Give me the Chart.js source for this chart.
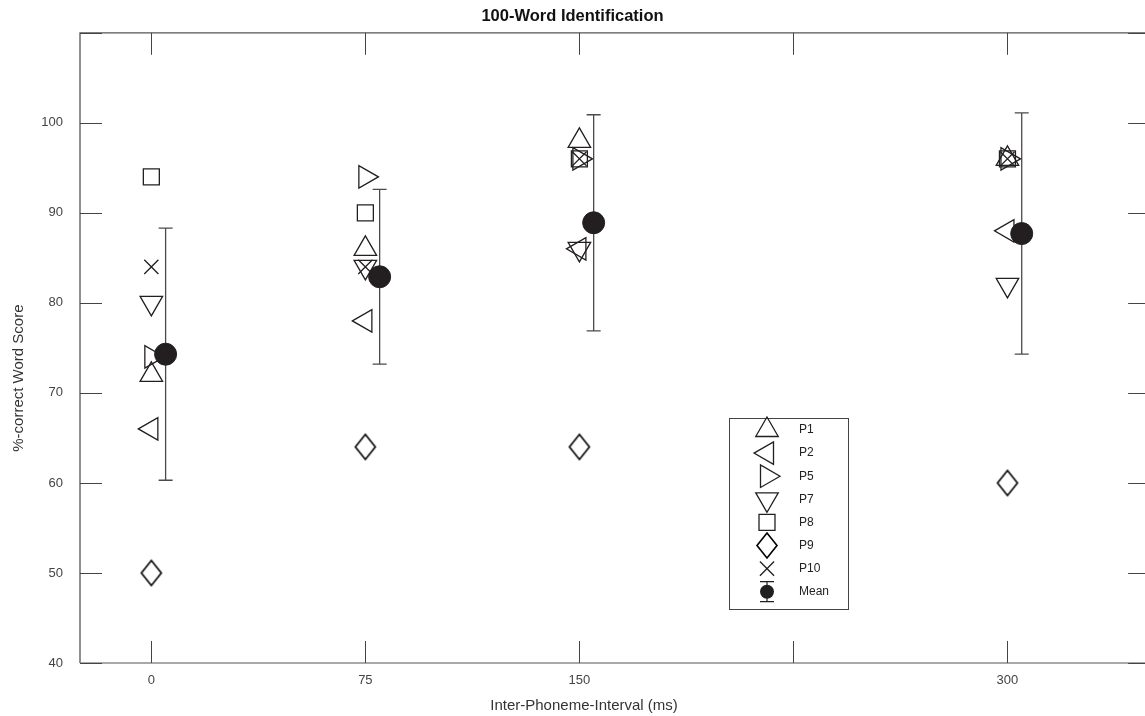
<!DOCTYPE html>
<html>
<head>
<meta charset="utf-8">
<script src="https://cdn.jsdelivr.net/npm/chart.js@4.4.1/dist/chart.umd.min.js"></script>
<style>
  html, body { margin: 0; padding: 0; background: #fff; overflow: hidden; }
  #ipiChart { display: block; }
</style>
</head>
<body>
<canvas id="ipiChart" width="1145" height="716"></canvas>
<script>
// ---- values ----
const ipiMs = [0, 75, 150, 300];
const tickMs = [0, 75, 150, 225, 300];
const unlabelledTicks = [225];
const scoreTicks = [40, 50, 60, 70, 80, 90, 100, 110];
const xAxisMin = -25;
const xAxisMax = 350;      // right edge of the axes box (just outside the cropped picture)
const xVisibleMax = 348.2; // where the picture is cut off

const participants = ['P1', 'P2', 'P5', 'P7', 'P8', 'P9', 'P10'];
const p1 = [72, 86, 98, 96];
const p2 = [66, 78, 86, 88];
const p5 = [74, 94, 96, 96];
const p7 = [80, 84, 86, 82];
const p8 = [94, 90, 96, 96];
const p9 = [50, 64, 64, 60];
const p10 = [84, 84, 96, 96];
const scores = [p1, p2, p5, p7, p8, p9, p10];

const meanScore = [74.3, 82.9, 88.9, 87.7];
const sdScore = [14.0, 9.7, 12.0, 13.4];
const meanShiftMs = 5;   // mean is drawn just right of the individual points

// ---- styling ----
const ink = '#231f20';
const FONT = '"Liberation Sans", Arial, sans-serif';

function diamondMarker(w, h) {
  const c = document.createElement('canvas');
  c.width = w + 4;
  c.height = h + 4;
  const g = c.getContext('2d');
  g.strokeStyle = '#000';
  g.lineWidth = 1.6;
  g.beginPath();
  g.moveTo(c.width / 2, 2);
  g.lineTo(c.width - 2, c.height / 2);
  g.lineTo(c.width / 2, c.height - 2);
  g.lineTo(2, c.height / 2);
  g.closePath();
  g.stroke();
  return c;
}

const markers = {
  P1:  { pointStyle: 'triangle', rotation: 0,   radius: 13 },
  P2:  { pointStyle: 'triangle', rotation: 270, radius: 13 },
  P5:  { pointStyle: 'triangle', rotation: 90,  radius: 13 },
  P7:  { pointStyle: 'triangle', rotation: 180, radius: 13 },
  P8:  { pointStyle: 'rect',     rotation: 0,   radius: 11.3 },
  P9:  { pointStyle: diamondMarker(20, 25), rotation: 0, radius: 12 },
  P10: { pointStyle: 'crossRot', rotation: 0,   radius: 10 }
};

const datasets = participants.map((name, k) => ({
  label: name,
  data: ipiMs.map((x, i) => ({ x: x, y: scores[k][i] })),
  showLine: false,
  pointStyle: markers[name].pointStyle,
  pointRotation: markers[name].rotation,
  pointRadius: markers[name].radius,
  pointBorderColor: ink,
  pointBackgroundColor: 'rgba(0,0,0,0)',
  pointBorderWidth: 1.3
}));

datasets.push({
  label: 'Mean',
  data: ipiMs.map((x, i) => ({ x: x + meanShiftMs, y: meanScore[i] })),
  showLine: false,
  pointStyle: 'circle',
  pointRadius: 11,
  pointBorderColor: ink,
  pointBackgroundColor: ink,
  pointBorderWidth: 1
});

// axes box with inward ticks on all four sides + error bars
const framePlugin = {
  id: 'frame',
  beforeDatasetsDraw(chart) {
    const { ctx, chartArea: a, scales: { x, y } } = chart;
    const tl = 22;
    const right = x.getPixelForValue(xAxisMax);
    ctx.save();
    ctx.lineWidth = 1.3;
    ctx.strokeStyle = '#555';
    ctx.beginPath();
    ctx.moveTo(a.left, a.bottom);
    ctx.lineTo(a.left, a.top);
    ctx.lineTo(right, a.top);
    ctx.lineTo(right, a.bottom);
    ctx.stroke();
    ctx.strokeStyle = '#8c8c8c';
    ctx.beginPath();
    ctx.moveTo(a.left, a.bottom);
    ctx.lineTo(right, a.bottom);
    ctx.stroke();

    ctx.lineWidth = 1;
    ctx.strokeStyle = '#444';
    ctx.beginPath();
    tickMs.forEach(v => {
      const px = Math.round(x.getPixelForValue(v)) + 0.5;
      ctx.moveTo(px, a.bottom); ctx.lineTo(px, a.bottom - tl);
      ctx.moveTo(px, a.top); ctx.lineTo(px, a.top + tl);
    });
    scoreTicks.forEach(v => {
      const py = Math.round(y.getPixelForValue(v)) + 0.5;
      ctx.moveTo(a.left, py); ctx.lineTo(a.left + tl, py);
      ctx.moveTo(right, py); ctx.lineTo(right - tl, py);
    });
    ctx.stroke();

    // mean +/- SD
    ctx.strokeStyle = '#4a4a4a';
    ctx.lineWidth = 1.3;
    ctx.beginPath();
    ipiMs.forEach((v, i) => {
      const px = x.getPixelForValue(v + meanShiftMs);
      const hi = y.getPixelForValue(meanScore[i] + sdScore[i]);
      const lo = y.getPixelForValue(meanScore[i] - sdScore[i]);
      ctx.moveTo(px, hi); ctx.lineTo(px, lo);
      ctx.moveTo(px - 7, hi); ctx.lineTo(px + 7, hi);
      ctx.moveTo(px - 7, lo); ctx.lineTo(px + 7, lo);
    });
    ctx.stroke();
    ctx.restore();
  }
};

// axis titles placed like the original figure
const axisTitlePlugin = {
  id: 'axisTitles',
  afterDraw(chart) {
    const { ctx, chartArea: a, scales: { x } } = chart;
    const right = x.getPixelForValue(xAxisMax);
    ctx.save();
    ctx.fillStyle = '#333';
    ctx.font = '15px ' + FONT;
    ctx.textAlign = 'center';
    ctx.textBaseline = 'middle';
    ctx.fillText('Inter-Phoneme-Interval (ms)', a.left + 0.471 * (right - a.left), 706);
    ctx.translate(19, a.top + 0.548 * (a.bottom - a.top));
    ctx.rotate(-Math.PI / 2);
    ctx.fillText('%-correct Word Score', 0, 0);
    ctx.restore();
  }
};

// boxed legend sitting inside the axes
const boxLegendPlugin = {
  id: 'boxLegend',
  afterDraw(chart) {
    const { ctx } = chart;
    const box = { left: 729.5, top: 418.5, width: 119, height: 191 };
    const row0 = 430, rowH = 23.1, mx = 767, lx = 799;
    ctx.save();
    ctx.fillStyle = '#fff';
    ctx.fillRect(box.left, box.top, box.width, box.height);
    ctx.strokeStyle = '#444';
    ctx.lineWidth = 1;
    ctx.strokeRect(box.left, box.top, box.width, box.height);

    ctx.font = '12px ' + FONT;
    ctx.textBaseline = 'middle';
    chart.data.datasets.forEach((ds, i) => {
      const cy = row0 + i * rowH;
      ctx.fillStyle = '#222';
      ctx.fillText(ds.label, lx, cy);
      if (ds.label === 'Mean') {
        ctx.strokeStyle = ink;
        ctx.lineWidth = 1.2;
        ctx.beginPath();
        ctx.moveTo(mx, cy - 10); ctx.lineTo(mx, cy + 10);
        ctx.moveTo(mx - 7, cy - 10); ctx.lineTo(mx + 7, cy - 10);
        ctx.moveTo(mx - 7, cy + 10); ctx.lineTo(mx + 7, cy + 10);
        ctx.stroke();
        ctx.fillStyle = ink;
        ctx.beginPath();
        ctx.arc(mx, cy, 7, 0, Math.PI * 2);
        ctx.fill();
        return;
      }
      ctx.strokeStyle = ink;
      ctx.fillStyle = 'rgba(0,0,0,0)';
      ctx.lineWidth = 1.3;
      Chart.helpers.drawPoint(ctx, {
        pointStyle: ds.pointStyle,
        rotation: ds.pointRotation,
        radius: ds.pointRadius,
        borderWidth: 1.3
      }, mx, cy);
    });
    ctx.restore();
  }
};

new Chart(document.getElementById('ipiChart').getContext('2d'), {
  type: 'scatter',
  data: { datasets },
  options: {
    responsive: false,
    animation: false,
    events: [],
    layout: { autoPadding: false, padding: 0 },
    plugins: {
      legend: { display: false },
      tooltip: { enabled: false },
      title: {
        display: true,
        text: '100-Word Identification',
        color: '#111',
        font: { family: FONT, size: 16.5, weight: 'bold' },
        padding: { top: 7, bottom: 6 }
      }
    },
    scales: {
      x: {
        type: 'linear',
        min: xAxisMin,
        max: xVisibleMax,
        afterBuildTicks: s => { s.ticks = tickMs.map(v => ({ value: v })); },
        afterFit: s => { s.height = 53; s.paddingLeft = 0; s.paddingRight = 0; },
        grid: { display: false, drawTicks: false },
        border: { display: false },
        ticks: {
          color: '#444',
          font: { family: FONT, size: 13 },
          padding: 10,
          maxRotation: 0,
          autoSkip: false,
          callback: v => unlabelledTicks.includes(v) ? '' : String(v)
        }
      },
      y: {
        min: 40,
        max: 110,
        afterBuildTicks: s => { s.ticks = scoreTicks.map(v => ({ value: v })); },
        afterFit: s => { s.width = 80; s.paddingTop = 0; s.paddingBottom = 0; },
        grid: { display: false, drawTicks: false },
        border: { display: false },
        ticks: {
          color: '#444',
          font: { family: FONT, size: 13 },
          padding: 17,
          callback: v => v >= 110 ? '' : String(v)
        }
      }
    }
  },
  plugins: [framePlugin, axisTitlePlugin, boxLegendPlugin]
});
</script>
</body>
</html>
